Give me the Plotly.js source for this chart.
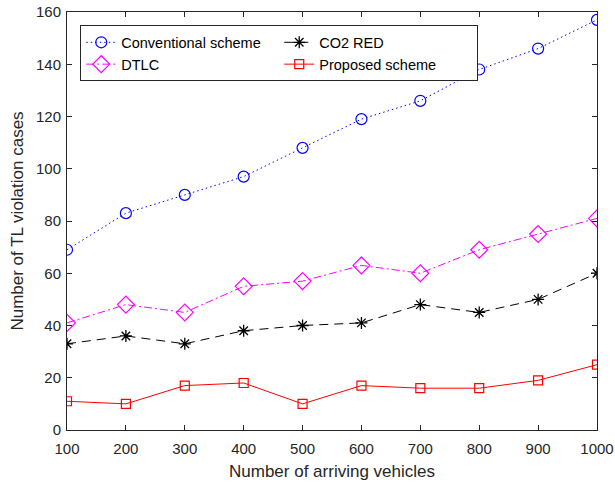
<!DOCTYPE html>
<html><head><meta charset="utf-8">
<script src="https://cdn.plot.ly/plotly-3.0.1.min.js"></script>
<style>html,body{margin:0;padding:0;background:#fff}#chart{width:615px;height:483px}</style>
</head><body><div id="chart"></div>
<script>
const vehicles = [100, 200, 300, 400, 500, 600, 700, 800, 900, 1000];
const conventional = [69, 83, 90, 97, 108, 119, 126, 138, 146, 157];
const co2red = [33, 36, 33, 38, 40, 41, 48, 45, 50, 60];
const dtlc = [41, 48, 45, 55, 57, 63, 60, 69, 75, 81];
const proposed = [11, 10, 17, 18, 10, 17, 16, 16, 19, 25];
const xTicks = [100, 200, 300, 400, 500, 600, 700, 800, 900, 1000];
const yTicks = [0, 20, 40, 60, 80, 100, 120, 140, 160];

const traces = [
  {x: vehicles, y: conventional, name: 'Conventional scheme', mode: 'lines+markers',
   line: {color: '#0000ff', width: 1, dash: '1.5px,3px'},
   marker: {symbol: 'circle-open', size: 11, color: '#0000ff', line: {width: 1.2, color: '#0000ff'}}},
  {x: vehicles, y: co2red, name: 'CO2 RED', mode: 'lines+markers',
   line: {color: '#000000', width: 1, dash: '9px,6px'},
   marker: {symbol: 'asterisk-open', size: 10, color: '#000000', line: {width: 1.3, color: '#000000'}}},
  {x: vehicles, y: dtlc, name: 'DTLC', mode: 'lines+markers',
   line: {color: '#ff00ff', width: 1, dash: '8px,3px,2px,3px'},
   marker: {symbol: 'diamond-open', size: 13, color: '#ff00ff', line: {width: 1.2, color: '#ff00ff'}}},
  {x: vehicles, y: proposed, name: 'Proposed scheme', mode: 'lines+markers',
   line: {color: '#ff0000', width: 1},
   marker: {symbol: 'square-open', size: 9, color: '#ff0000', line: {width: 1.2, color: '#ff0000'}}}
];

const FONT = 'Liberation Sans, Arial, sans-serif';
const axisCommon = {
  showgrid: false, zeroline: false, showline: true, linecolor: '#262626', linewidth: 1,
  mirror: 'ticks', ticks: 'inside', ticklen: 5, tickcolor: '#262626',
  tickfont: {family: FONT, size: 15, color: '#262626'}
};

const layout = {
  width: 615, height: 483,
  margin: {l: 67, r: 18, t: 12, b: 53},
  paper_bgcolor: '#fff', plot_bgcolor: '#fff',
  font: {family: FONT, color: '#262626'},
  xaxis: Object.assign({}, axisCommon, {
    range: [100, 1000], tickvals: xTicks, ticklabelstandoff: 5,
    title: {text: 'Number of arriving vehicles', font: {family: FONT, size: 17, color: '#262626'}, standoff: 9}
  }),
  yaxis: Object.assign({}, axisCommon, {
    range: [0, 160], tickvals: yTicks, ticklabelstandoff: 2,
    title: {text: 'Number of TL violation cases', font: {family: FONT, size: 17, color: '#262626'}, standoff: 8}
  }),
  showlegend: true,
  legend: {
    orientation: 'h', x: 0.025, y: 0.968, xanchor: 'left', yanchor: 'top',
    bgcolor: '#fff', bordercolor: '#262626', borderwidth: 1,
    entrywidth: 153, entrywidthmode: 'pixels',
    font: {family: FONT, size: 14.5, color: '#000'},
    tracegroupgap: 0
  }
};

Plotly.newPlot('chart', traces, layout, {displayModeBar: false, staticPlot: true});
</script></body></html>
